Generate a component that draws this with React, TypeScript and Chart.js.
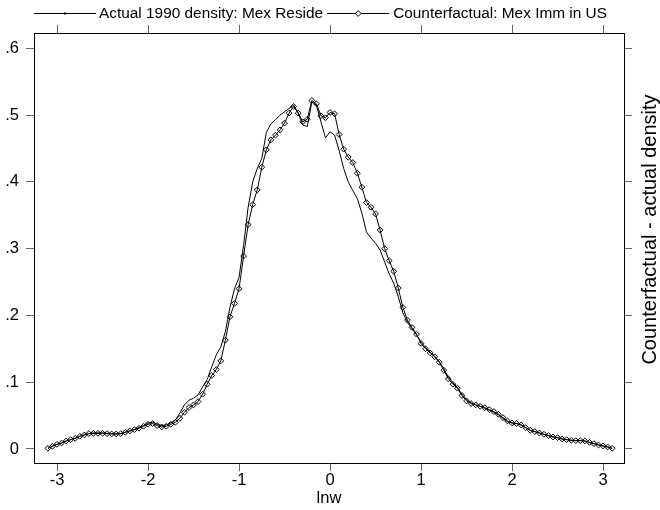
import React, { useEffect, useRef } from 'react';
import { Chart, registerables } from 'chart.js';

Chart.register(...registerables);

const lnw = [
  -3.1, -3.05, -3.0, -2.95, -2.9, -2.85, -2.8, -2.75, -2.7, -2.65,
  -2.6, -2.55, -2.5, -2.45, -2.4, -2.35, -2.3, -2.25, -2.2, -2.15,
  -2.1, -2.05, -2.0, -1.95, -1.9, -1.85, -1.8, -1.75, -1.7, -1.65,
  -1.6, -1.55, -1.5, -1.45, -1.4, -1.35, -1.3, -1.25, -1.2, -1.15,
  -1.1, -1.05, -1.0, -0.95, -0.9, -0.85, -0.8, -0.75, -0.7, -0.65,
  -0.6, -0.55, -0.5, -0.45, -0.4, -0.35, -0.3, -0.25, -0.2, -0.15,
  -0.1, -0.05, 0.0, 0.05, 0.1, 0.15, 0.2, 0.25, 0.3, 0.35,
  0.4, 0.45, 0.5, 0.55, 0.6, 0.65, 0.7, 0.75, 0.8, 0.85,
  0.9, 0.95, 1.0, 1.05, 1.1, 1.15, 1.2, 1.25, 1.3, 1.35,
  1.4, 1.45, 1.5, 1.55, 1.6, 1.65, 1.7, 1.75, 1.8, 1.85,
  1.9, 1.95, 2.0, 2.05, 2.1, 2.15, 2.2, 2.25, 2.3, 2.35,
  2.4, 2.45, 2.5, 2.55, 2.6, 2.65, 2.7, 2.75, 2.8, 2.85,
  2.9, 2.95, 3.0, 3.05, 3.1,
];

const actualDensity = [
  0.001, 0.004, 0.007, 0.009, 0.012, 0.014, 0.016, 0.019, 0.021, 0.023,
  0.024, 0.024, 0.024, 0.0235, 0.023, 0.0225, 0.023, 0.025, 0.027, 0.029,
  0.032, 0.035, 0.039, 0.040, 0.037, 0.035, 0.036, 0.039, 0.043, 0.054,
  0.066, 0.073, 0.076, 0.081, 0.093, 0.104, 0.123, 0.141, 0.153, 0.176,
  0.212, 0.240, 0.257, 0.305, 0.362, 0.400, 0.420, 0.435, 0.474, 0.487,
  0.493, 0.500, 0.505, 0.510, 0.515, 0.503, 0.485, 0.483, 0.520, 0.515,
  0.490, 0.466, 0.475, 0.470, 0.447, 0.420, 0.400, 0.387, 0.375, 0.353,
  0.325, 0.316, 0.308, 0.298, 0.280, 0.262, 0.248, 0.228, 0.204, 0.190,
  0.180, 0.171, 0.160, 0.152, 0.145, 0.139, 0.131, 0.120, 0.108, 0.099,
  0.092, 0.082, 0.074, 0.069, 0.066, 0.064, 0.061, 0.058, 0.055, 0.051,
  0.046, 0.041, 0.039, 0.038, 0.036, 0.032, 0.028, 0.026, 0.024, 0.022,
  0.020, 0.018, 0.017, 0.015, 0.014, 0.013, 0.0125, 0.0125, 0.012, 0.010,
  0.008, 0.006, 0.0045, 0.003, 0.001,
];

const counterfactualDensity = [
  0.001, 0.004, 0.007, 0.009, 0.012, 0.014, 0.016, 0.019, 0.021, 0.023,
  0.0235, 0.0235, 0.0235, 0.023, 0.0225, 0.0225, 0.023, 0.025, 0.027, 0.029,
  0.031, 0.034, 0.037, 0.038, 0.035, 0.033, 0.034, 0.037, 0.040, 0.046,
  0.055, 0.062, 0.066, 0.071, 0.082, 0.097, 0.110, 0.119, 0.132, 0.163,
  0.198, 0.218, 0.240, 0.289, 0.336, 0.366, 0.388, 0.422, 0.448, 0.463,
  0.470, 0.478, 0.488, 0.503, 0.513, 0.503, 0.490, 0.494, 0.522, 0.517,
  0.499, 0.496, 0.504, 0.502, 0.471, 0.449, 0.437, 0.429, 0.413, 0.392,
  0.369, 0.362, 0.352, 0.328, 0.300, 0.282, 0.266, 0.241, 0.212, 0.193,
  0.182, 0.172, 0.158, 0.150, 0.144, 0.138, 0.130, 0.118, 0.105, 0.097,
  0.091, 0.080, 0.072, 0.068, 0.066, 0.064, 0.062, 0.059, 0.056, 0.052,
  0.047, 0.042, 0.039, 0.038, 0.036, 0.032, 0.028, 0.026, 0.024, 0.022,
  0.020, 0.018, 0.017, 0.015, 0.014, 0.013, 0.0125, 0.0125, 0.012, 0.010,
  0.008, 0.006, 0.0045, 0.003, 0.001,
];

const seriesLabels = ['Actual 1990 density: Mex Reside', 'Counterfactual: Mex Imm in US'];
const xTicks = [-3, -2, -1, 0, 1, 2, 3];
const xTickLabels = ['-3', '-2', '-1', '0', '1', '2', '3'];
const yTicks = [0, 0.1, 0.2, 0.3, 0.4, 0.5, 0.6];
const yTickLabels = ['0', '.1', '.2', '.3', '.4', '.5', '.6'];
const xTitle = 'lnw';
const rightTitle = 'Counterfactual - actual density';

const FAMILY = "'Liberation Sans', Arial, Helvetica, sans-serif";
const TICK_SIZE = 16.5;
const LEGEND_SIZE = 15.4;
const RIGHT_TITLE_SIZE = 20;
const X_MIN = -3.253;
const X_MAX = 3.23;
const Y_MIN = -0.021;
const Y_MAX = 0.623;

function drawDiamond(ctx: CanvasRenderingContext2D, cx: number, cy: number, r: number) {
  ctx.beginPath();
  ctx.moveTo(cx, cy - r);
  ctx.lineTo(cx + r, cy);
  ctx.lineTo(cx, cy + r);
  ctx.lineTo(cx - r, cy);
  ctx.closePath();
  ctx.fillStyle = '#fff';
  ctx.fill();
  ctx.stroke();
}

const overlayPlugin = {
  id: 'overlay',
  afterDraw(chart: any) {
    const ctx = chart.ctx as CanvasRenderingContext2D;
    const area = chart.chartArea;
    ctx.save();
    ctx.font = `${LEGEND_SIZE}px ${FAMILY}`;
    ctx.strokeStyle = '#000';
    ctx.lineWidth = 1;
    ctx.textBaseline = 'middle';
    ctx.textAlign = 'left';
    const ly = 13.5;
    const keyLen = 62;
    let x = area.left;
    // legend item 1: line with small dot
    ctx.beginPath();
    ctx.moveTo(x, ly);
    ctx.lineTo(x + keyLen, ly);
    ctx.stroke();
    ctx.fillStyle = '#000';
    ctx.fillRect(x + keyLen / 2 - 1, ly - 1, 2, 2);
    x += keyLen + 3;
    ctx.fillText(seriesLabels[0], x, ly);
    x += ctx.measureText(seriesLabels[0]).width + 4;
    // legend item 2: line with hollow diamond
    ctx.beginPath();
    ctx.moveTo(x, ly);
    ctx.lineTo(x + keyLen, ly);
    ctx.stroke();
    drawDiamond(ctx, x + keyLen / 2, ly, 2.9);
    x += keyLen + 4;
    ctx.fillStyle = '#000';
    ctx.fillText(seriesLabels[1], x, ly);
    // right axis title (reads bottom to top)
    ctx.font = `${RIGHT_TITLE_SIZE}px ${FAMILY}`;
    ctx.translate(656, 229.5);
    ctx.rotate(-Math.PI / 2);
    ctx.textAlign = 'center';
    ctx.textBaseline = 'alphabetic';
    ctx.fillText(rightTitle, 0, 0);
    ctx.restore();
  },
};

export default function App() {
  const canvasRef = useRef<HTMLCanvasElement | null>(null);

  useEffect(() => {
    if (!canvasRef.current) return;
    const font = { family: FAMILY, size: TICK_SIZE };
    const tickGrid = {
      drawOnChartArea: false,
      drawTicks: true,
      tickLength: 8,
      tickColor: '#666',
      tickWidth: 1,
    };
    const border = { display: true, color: '#000', width: 1 };
    const chart = new Chart(canvasRef.current, {
      type: 'line',
      data: {
        datasets: [
          {
            label: seriesLabels[0],
            data: lnw.map((x, i) => ({ x, y: actualDensity[i] })),
            borderColor: '#000',
            borderWidth: 1,
            pointRadius: 0,
            tension: 0,
            fill: false,
          },
          {
            label: seriesLabels[1],
            data: lnw.map((x, i) => ({ x, y: counterfactualDensity[i] })),
            borderColor: '#000',
            borderWidth: 1,
            pointStyle: 'rectRot',
            pointRadius: 2.9,
            pointBorderWidth: 1,
            pointBorderColor: '#000',
            pointBackgroundColor: 'rgba(255,255,255,0)',
            tension: 0,
            fill: false,
          },
        ],
      },
      options: {
        responsive: false,
        animation: false,
        layout: { padding: 0 },
        plugins: {
          legend: { display: false },
          tooltip: { enabled: false },
        },
        scales: {
          x: {
            type: 'linear',
            position: 'bottom',
            min: X_MIN,
            max: X_MAX,
            afterBuildTicks: (axis: any) => {
              axis.ticks = xTicks.map((v) => ({ value: v }));
            },
            afterFit: (axis: any) => {
              axis.height = 47;
            },
            ticks: {
              font,
              color: '#000',
              padding: 0,
              maxRotation: 0,
              autoSkip: false,
              callback: (_v: any, i: number) => xTickLabels[i],
            },
            grid: tickGrid,
            border,
            title: {
              display: true,
              text: xTitle,
              font,
              color: '#000',
              padding: { top: 0, bottom: 2 },
            },
          },
          x2: {
            type: 'linear',
            position: 'top',
            min: X_MIN,
            max: X_MAX,
            afterBuildTicks: (axis: any) => {
              axis.ticks = xTicks.map((v) => ({ value: v }));
            },
            afterFit: (axis: any) => {
              axis.height = 33;
            },
            ticks: { display: false },
            grid: tickGrid,
            border,
          },
          y: {
            type: 'linear',
            position: 'left',
            min: Y_MIN,
            max: Y_MAX,
            afterBuildTicks: (axis: any) => {
              axis.ticks = yTicks.map((v) => ({ value: v }));
            },
            afterFit: (axis: any) => {
              axis.width = 34;
            },
            ticks: {
              font,
              color: '#000',
              padding: 7,
              autoSkip: false,
              callback: (_v: any, i: number) => yTickLabels[i],
            },
            grid: tickGrid,
            border,
          },
          y2: {
            type: 'linear',
            position: 'right',
            min: Y_MIN,
            max: Y_MAX,
            afterBuildTicks: (axis: any) => {
              axis.ticks = yTicks.map((v) => ({ value: v }));
            },
            afterFit: (axis: any) => {
              axis.width = 36;
            },
            ticks: { display: false },
            grid: tickGrid,
            border,
          },
        },
      },
      plugins: [overlayPlugin],
    } as any);
    return () => chart.destroy();
  }, []);

  return (
    <div style={{ position: 'absolute', left: 0, top: 0, width: 660, height: 510, background: '#fff' }}>
      <canvas ref={canvasRef} width={660} height={510} style={{ width: 660, height: 510, display: 'block' }} />
    </div>
  );
}
